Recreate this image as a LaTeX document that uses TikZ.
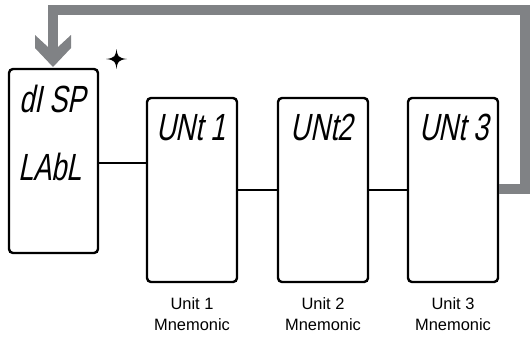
\documentclass[tikz,border=0pt]{standalone}
\usepackage{fontspec}
\setmainfont{Liberation Sans}
\newfontfamily\lcdfont[FakeSlant=0.2,FakeStretch=0.72]{Liberation Sans}
\definecolor{loopgray}{RGB}{128,130,133}
\begin{document}
\begin{tikzpicture}[x=1bp,y=-1bp,
  unitbox/.style={draw=black,line width=2.4bp,rounded corners=4bp,inner sep=0pt,minimum width=90bp,minimum height=184bp},
  lcd/.style={inner sep=0pt,anchor=base,font=\lcdfont\fontsize{38}{38}\selectfont},
  lbl/.style={inner sep=0pt,anchor=base,align=center,font=\fontsize{16.5}{21}\selectfont},
  conn/.style={draw=black,line width=2bp},
  loopline/.style={draw=loopgray,line width=10bp}]
\useasboundingbox (0,0) rectangle (531,337);
% boxes
\node[unitbox,minimum width=89bp] (b0) at (53.5,161) {};
\node[unitbox] (b1) at (192,190) {};
\node[unitbox] (b2) at (323,190) {};
\node[unitbox] (b3) at (453,190) {};
% LCD texts
\node[lcd] (t0a) at (52.5,112) {dI SP};
\node[lcd] (t0b) at (50,180) {LAbL};
\node[lcd] (t1) at (191,140) {UNt 1};
\node[lcd] (t2) at (322,140) {UNt2};
\node[lcd] (t3) at (454,140) {UNt 3};
% labels
\node[lbl] (l1) at (192,330) {Unit 1\\Mnemonic};
\node[lbl] (l2) at (323,330) {Unit 2\\Mnemonic};
\node[lbl] (l3) at (453,330) {Unit 3\\Mnemonic};
% connectors
\draw[conn] (b0.east |- 0,163) -- (b1.west |- 0,163);
\draw[conn] (b1.east |- 0,190) -- (b2.west |- 0,190);
\draw[conn] (b2.east |- 0,190) -- (b3.west |- 0,190);
% loop back
\coordinate (c1) at (525,189);
\coordinate (c2) at (525,10);
\coordinate (c3) at (53,10);
\coordinate (c4) at (53,49);
\draw[loopline,line join=miter] (b3.east |- c1) -- (c1) -- (c2) -- (c3) -- (c4);
\fill[loopgray] (48,47) -- (35,35) -- (35,48) -- (53,67) -- (71,48) -- (71,35) -- (58,47) -- cycle;
% star
\fill[black] (116.5,49) .. controls (117.5,56) and (118,58) .. (127,59)
  .. controls (118,60) and (117.5,62) .. (116.5,69)
  .. controls (115.5,62) and (115,60) .. (106,59)
  .. controls (115,58) and (115.5,56) .. (116.5,49) -- cycle;
\end{tikzpicture}
\end{document}
